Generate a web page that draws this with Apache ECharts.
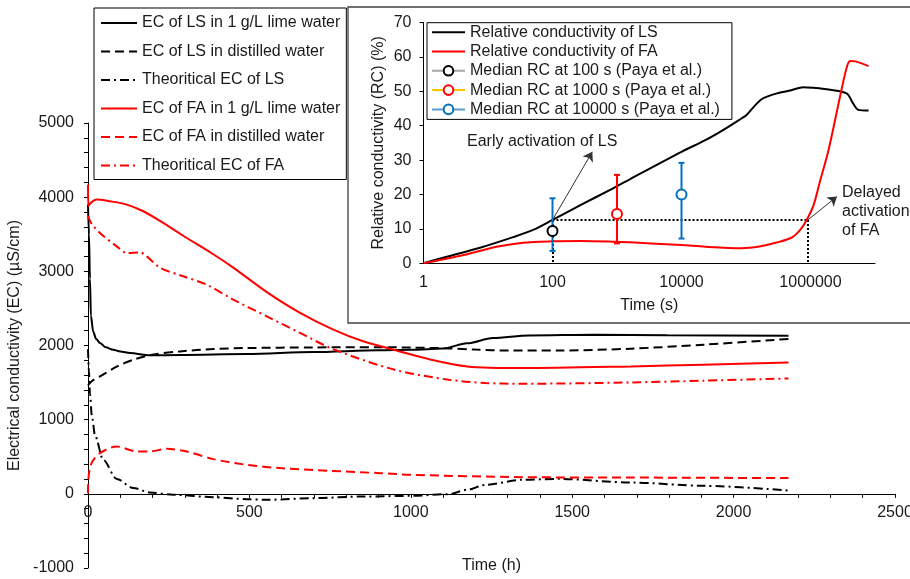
<!DOCTYPE html>
<html><head><meta charset="utf-8">
<script src="https://cdn.jsdelivr.net/npm/echarts@6/dist/echarts.min.js"></script>
<style>html,body{margin:0;padding:0;background:#fff}#c{width:910px;height:579px}</style>
</head><body><div id="c"></div>
<script>
// ---------- Main chart: EC vs time (h) ----------
const lsLimeT  = [0, 3, 6, 9, 16, 25, 37, 55, 78, 100, 130, 192, 285, 492, 698, 900, 1000, 1100, 1174, 1254, 1366, 1569, 1794, 2170];
const lsLimeEC = [3900, 3500, 2900, 2400, 2190, 2090, 2034, 1975, 1943, 1920, 1899, 1868, 1872, 1885, 1912, 1935, 1942, 1960, 2030, 2100, 2136, 2146, 2138, 2132];

const lsDistT  = [0, 5, 15, 37, 90, 140, 200, 285, 390, 490, 700, 900, 1000, 1118, 1200, 1300, 1456, 1682, 1907, 2170];
const lsDistEC = [1460, 1490, 1530, 1583, 1718, 1808, 1876, 1920, 1953, 1966, 1974, 1978, 1972, 1961, 1945, 1932, 1932, 1957, 2011, 2088];

const lsTheoT  = [0, 3, 6, 12, 22, 47, 89, 140, 192, 264, 388, 492, 554, 698, 853, 1004, 1118, 1174, 1231, 1344, 1456, 1682, 1907, 2170];
const lsTheoEC = [1950, 1650, 1350, 1050, 780, 459, 200, 80, 18, -13, -45, -72, -80, -58, -36, -27, -4, 54, 121, 189, 202, 153, 108, 45];

const faLimeT  = [0, 1, 8, 27, 68, 120, 171, 223, 295, 388, 450, 554, 657, 760, 850, 950, 1063, 1174, 1344, 1682, 1907, 2170];
const faLimeEC = [4170, 3877, 3920, 3968, 3945, 3900, 3810, 3680, 3480, 3230, 3050, 2720, 2440, 2213, 2060, 1940, 1808, 1718, 1696, 1718, 1741, 1772];

const faDistT  = [0, 1, 11, 37, 89, 151, 192, 244, 306, 388, 492, 595, 750, 905, 1006, 1344, 1682, 2170];
const faDistEC = [9, 190, 414, 549, 638, 571, 571, 607, 571, 468, 391, 347, 310, 279, 256, 225, 220, 212];

const faTheoT  = [0, 10, 37, 89, 120, 161, 182, 223, 295, 368, 450, 554, 657, 760, 950, 1118, 1231, 1344, 1682, 1907, 2170];
const faTheoEC = [3750, 3650, 3518, 3337, 3248, 3256, 3202, 3050, 2933, 2820, 2618, 2393, 2169, 1950, 1673, 1538, 1494, 1484, 1502, 1525, 1556];

const mainNames = ['EC of LS in 1 g/L lime water', 'EC of LS in distilled water', 'Theoritical EC of LS',
                   'EC of FA in 1 g/L lime water', 'EC of FA in distilled water', 'Theoritical EC of FA'];
const mainXTicks = [0, 2500, 500];     // min, max, step (h)
const mainYTicks = [-1000, 5000, 1000]; // min, max, step

// ---------- Inset: relative conductivity vs time (s) ----------
const rcLsT = [1, 2.3, 7.5, 24.5, 50, 100, 270, 870, 1600, 10000, 23400, 44700, 85000, 102000, 148000, 186000, 302000, 500000, 776000, 1120000, 1780000, 3630000, 4570000, 5500000, 7940000];
const rcLs  = [0, 1.9, 4.5, 7.6, 9.7, 12.6, 16.9, 21.8, 24.5, 32.4, 35.8, 38.8, 42.1, 43.1, 46.5, 48.0, 49.4, 50.3, 51.2, 51.0, 50.6, 49.4, 46.5, 44.6, 44.4];

const rcFaT = [1, 4.2, 13.5, 35, 100, 270, 870, 1600, 10000, 23400, 85000, 162000, 309000, 513000, 692000, 871000, 1120000, 1410000, 1910000, 3020000, 3720000, 4170000, 5010000, 7940000];
const rcFa  = [0, 2.4, 4.8, 6.0, 6.4, 6.5, 6.3, 6.1, 5.3, 4.8, 4.4, 4.9, 6.1, 7.5, 9.7, 12.6, 17, 24, 33, 50.4, 57.5, 58.8, 58.7, 57.3];

const medianT   = [100, 1000, 10000];
const medianRC  = [9.4, 14.3, 20.0];
const medianLow = [3.6, 5.8, 7.2];
const medianHigh= [18.9, 25.7, 29.2];
const medianNames = ['Median RC at 100 s (Paya et al.)', 'Median RC at 1000 s (Paya et al.)', 'Median RC at 10000 s (Paya et al.)'];
const insetNames = ['Relative conductivity of LS', 'Relative conductivity of FA'];

const activationRC = 12.6;          // common RC level
const earlyT = 100, delayedT = 910000;
const earlyArrowEnd = [414, 32.4];
const delayedArrowEnd = [2570000, 19.4];

// ---------- build ----------
const zip = (a, b) => a.map((v, i) => [v, b[i]]);
const FONT = '"Liberation Sans", Arial, sans-serif';
const TXT = '#1a1a1a';

const MAIN_GRID = { left: 88, top: 123, width: 807, height: 445 };
// x axis crosses the y axis at zero
const xAxisOffset = -(0 - mainYTicks[0]) / (mainYTicks[1] - mainYTicks[0]) * MAIN_GRID.height;

const mainSeriesDef = [
  [lsLimeT, lsLimeEC, '#000', 'solid', 'x'],
  [lsDistT, lsDistEC, '#000', [9, 5], null],
  [lsTheoT, lsTheoEC, '#000', [9, 4, 2, 4], 'x'],
  [faLimeT, faLimeEC, '#ff0000', 'solid', null],
  [faDistT, faDistEC, '#ff0000', [9, 5], null],
  [faTheoT, faTheoEC, '#ff0000', [9, 4, 2, 4], null]
];
const series = mainSeriesDef.map((d, i) => ({
  name: mainNames[i], type: 'line', xAxisIndex: 0, yAxisIndex: 0,
  data: zip(d[0], d[1]), symbol: 'none', smooth: 0.3, smoothMonotone: d[4] || undefined, z: 2,
  lineStyle: { color: d[2], width: 2, type: d[3] }, itemStyle: { color: d[2] }
}));

const dotted = { color: '#000', type: [2, 2], width: 2 };
const arrowStyle = { color: '#333', type: 'solid', width: 1 };
series.push({
  name: insetNames[0], type: 'line', xAxisIndex: 1, yAxisIndex: 1, z: 7,
  data: zip(rcLsT, rcLs), symbol: 'none', smooth: 0.3,
  lineStyle: { color: '#000', width: 2 }, itemStyle: { color: '#000' },
  markLine: {
    silent: true, animation: false, label: { show: false }, symbol: 'none',
    data: [
      [{ coord: [earlyT, activationRC], lineStyle: dotted }, { coord: [delayedT, activationRC] }],
      [{ coord: [delayedT, activationRC], lineStyle: dotted }, { coord: [delayedT, 0] }],
      [{ coord: [earlyT, activationRC], lineStyle: dotted }, { coord: [earlyT, 0] }],
      [{ coord: [earlyT, activationRC], lineStyle: arrowStyle, symbol: 'none' }, { coord: earlyArrowEnd, symbol: 'arrow', symbolSize: 9 }],
      [{ coord: [delayedT, activationRC], lineStyle: arrowStyle, symbol: 'none' }, { coord: delayedArrowEnd, symbol: 'arrow', symbolSize: 9 }]
    ]
  }
});
series.push({
  name: insetNames[1], type: 'line', xAxisIndex: 1, yAxisIndex: 1, z: 7,
  data: zip(rcFaT, rcFa), symbol: 'none', smooth: 0.3,
  lineStyle: { color: '#ff0000', width: 2 }, itemStyle: { color: '#ff0000' }
});
const barColors = ['#0070C0', '#ff0000', '#0070C0'];
series.push({
  type: 'custom', xAxisIndex: 1, yAxisIndex: 1, z: 8, silent: true,
  data: medianT.map((t, i) => [t, medianLow[i], medianHigh[i]]),
  encode: { x: 0, y: [1, 2] },
  renderItem: (params, api) => {
    const p1 = api.coord([api.value(0), api.value(1)]);
    const p2 = api.coord([api.value(0), api.value(2)]);
    const st = { stroke: barColors[params.dataIndex], lineWidth: 2 };
    const w = 3;
    return { type: 'group', children: [
      { type: 'line', shape: { x1: p1[0], y1: p1[1], x2: p2[0], y2: p2[1] }, style: st },
      { type: 'line', shape: { x1: p1[0] - w, y1: p1[1], x2: p1[0] + w, y2: p1[1] }, style: st },
      { type: 'line', shape: { x1: p2[0] - w, y1: p2[1], x2: p2[0] + w, y2: p2[1] }, style: st }
    ]};
  }
});
const medLine = ['#a5a5a5', '#ffc000', '#5b9bd5'];
const medMark = ['#000', '#ff0000', '#0070C0'];
medianT.forEach((t, i) => series.push({
  name: medianNames[i], type: 'line', xAxisIndex: 1, yAxisIndex: 1, z: 9,
  data: [[t, medianRC[i]]], symbol: 'emptyCircle', symbolSize: 10, showSymbol: true,
  lineStyle: { color: medLine[i], width: 2 },
  itemStyle: { color: medMark[i], borderColor: medMark[i], borderWidth: 1.5 }
}));

const axisBase = {
  axisLine: { lineStyle: { color: '#000', width: 1 } },
  axisTick: { length: 4, lineStyle: { color: '#000' } },
  splitLine: { show: false },
  nameTextStyle: { fontSize: 16, color: TXT, fontFamily: FONT },
  nameLocation: 'middle'
};
const lbl = (m) => ({ fontSize: 16, color: TXT, fontFamily: FONT, margin: m, formatter: v => String(Math.round(v)) });
const noSymbol = (names) => names.map(n => ({ name: n, itemStyle: { opacity: 0 } }));

const option = {
  animation: false,
  textStyle: { fontFamily: FONT },
  grid: [
    Object.assign({ outerBoundsMode: 'none', containLabel: false }, MAIN_GRID),
    { left: 423.5, top: 22.5, width: 451.5, height: 240.8, outerBoundsMode: 'none', containLabel: false }
  ],
  xAxis: [
    Object.assign({}, axisBase, {
      gridIndex: 0, type: 'value', min: mainXTicks[0], max: mainXTicks[1], interval: mainXTicks[2],
      position: 'bottom', offset: xAxisOffset,
      axisLine: { onZero: false, lineStyle: { color: '#000', width: 1 } },
      minorTick: { show: true, splitNumber: 5, length: 4, lineStyle: { color: '#000' } },
      axisLabel: lbl(11), name: 'Time (h)', nameGap: 64
    }),
    Object.assign({}, axisBase, {
      gridIndex: 1, type: 'log', logBase: 100, min: 1, max: 1e7, z: 6,
      axisLine: { onZero: false, lineStyle: { color: '#000', width: 1 } },
      axisTick: { show: false },
      axisLabel: Object.assign(lbl(11), { showMaxLabel: false }),
      name: 'Time (s)', nameGap: 34
    })
  ],
  yAxis: [
    Object.assign({}, axisBase, {
      gridIndex: 0, type: 'value', min: mainYTicks[0], max: mainYTicks[1], interval: mainYTicks[2],
      axisLine: { onZero: false, lineStyle: { color: '#000', width: 1 } },
      minorTick: { show: true, splitNumber: 5, length: 4, lineStyle: { color: '#000' } },
      axisLabel: lbl(14), name: 'Electrical conductivity (EC) (µS/cm)', nameGap: 60
    }),
    Object.assign({}, axisBase, {
      gridIndex: 1, type: 'value', min: 0, max: 70, interval: 10, z: 6,
      axisLine: { onZero: false, lineStyle: { color: '#000', width: 1 } },
      axisLabel: lbl(12), name: 'Relative conductivity (RC) (%)', nameGap: 37
    })
  ],
  legend: [
    {
      data: noSymbol(mainNames), orient: 'vertical', align: 'left', left: 94, top: 8,
      padding: [7, 6, 6, 6], itemWidth: 36, itemHeight: 14, itemGap: 12.5,
      backgroundColor: '#fff', borderColor: '#000', borderWidth: 1, z: 4,
      textStyle: { fontSize: 16, lineHeight: 16, color: TXT, fontFamily: FONT },
      selectedMode: false
    },
    {
      data: noSymbol(insetNames).concat(medianNames), orient: 'vertical', align: 'left', left: 427, top: 22.7,
      padding: [1.5, 12, 2, 4], itemWidth: 33, itemHeight: 12, itemGap: 3.3,
      backgroundColor: '#fff', borderColor: '#000', borderWidth: 1, z: 10,
      textStyle: { fontSize: 16, lineHeight: 16, color: TXT, fontFamily: FONT },
      selectedMode: false
    }
  ],
  graphic: [
    { type: 'rect', z: 5, silent: true, shape: { x: 348, y: 7, width: 620, height: 316 },
      style: { fill: '#fff', stroke: '#404040', lineWidth: 1.3 } },
    { type: 'text', z: 10, x: 467, y: 134, silent: true,
      style: { text: 'Early activation of LS', fontSize: 16, fontFamily: FONT, fill: TXT } },
    { type: 'text', z: 10, x: 842, y: 183.5, silent: true,
      style: { text: 'Delayed\nactivation\nof FA', fontSize: 16, lineHeight: 18.7, fontFamily: FONT, fill: TXT } }
  ],
  series: series
};
const chart = echarts.init(document.getElementById('c'), null, { renderer: 'canvas' });
chart.setOption(option);
</script>
</body></html>
